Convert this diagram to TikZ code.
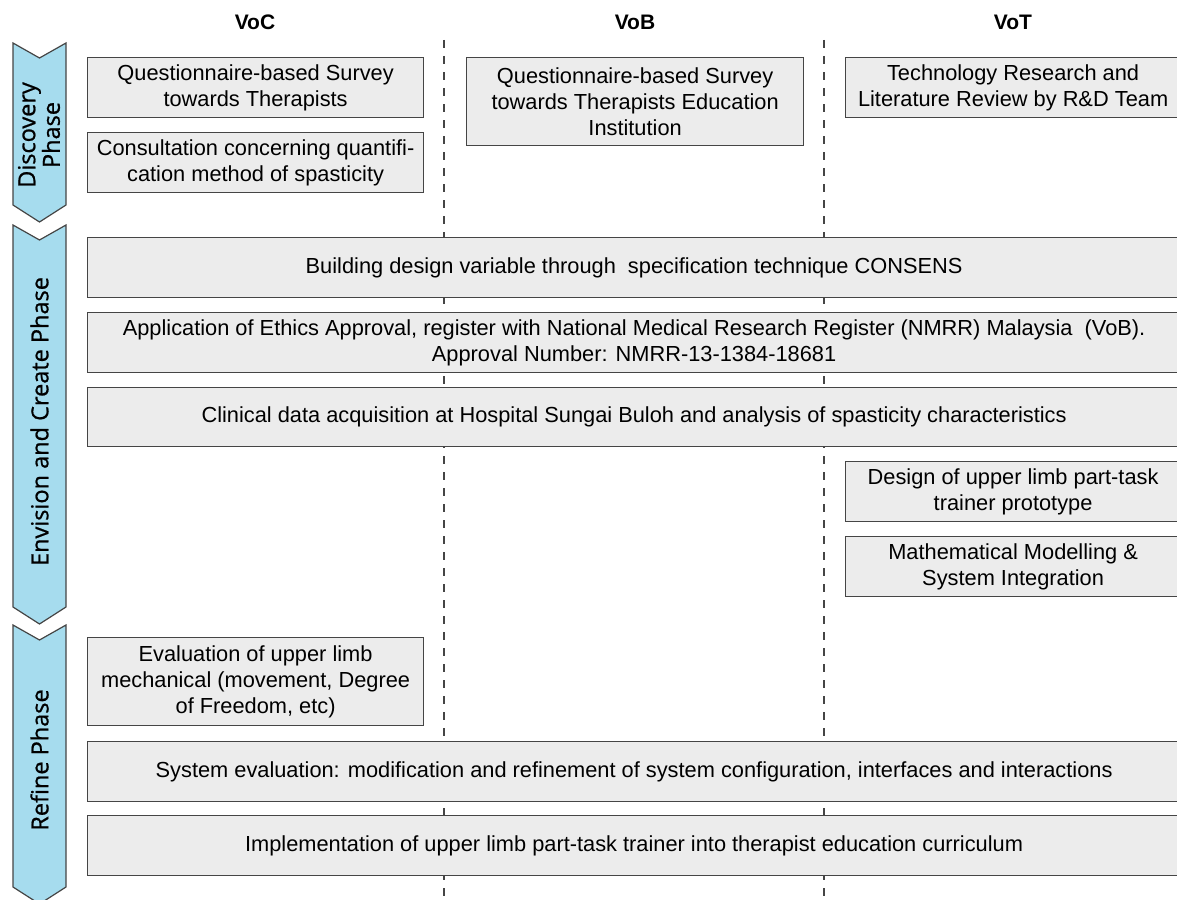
\documentclass[tikz,border=0pt]{standalone}
\usepackage{fontspec}
\setmainfont{Liberation Sans}
\newfontfamily\phasefont[FakeBold=0.8]{Open Sans}
\usetikzlibrary{positioning}
\definecolor{boxgray}{HTML}{ECECEC}
\definecolor{boxline}{HTML}{454545}
\definecolor{phaseblue}{HTML}{A6DCEE}
\tikzset{every node/.style={inner sep=0pt, align=center, font=\fontsize{21.8}{26}\selectfont},
         task/.style={draw=boxline, fill=boxgray, line width=1.2pt, anchor=north west},
         phase/.style={draw=boxline, fill=phaseblue, line width=1.2pt, line join=miter},
         phasetext/.style={rotate=90, font=\fontsize{23.5}{19}\phasefont},
         voice/.style={font=\fontsize{21}{24}\selectfont\bfseries},
         lane/.style={boxline, line width=1.1pt, dash pattern=on 8pt off 8pt}}

\begin{document}
\begin{tikzpicture}[x=1pt,y=-1pt]
     \useasboundingbox (0,0) rectangle (1177,899);
     \node[voice] (voc) at ( 255,22) {VoC};
     \node[voice] (vob) at ( 635,22) {VoB};
     \node[voice] (vot) at (1013,22) {VoT};
     \draw[lane] (444,40) -- (444,899);
     \draw[lane] (824,40) -- (824,899);
     \begin{scope}
      \filldraw[phase] (13,43) -- (39.5,58) -- (66,43) -- (66,205) -- (39.5,222) -- (13,205) -- cycle;
      \node[phasetext] (discovery) at (39,135) {Discovery\\Phase};
      \node[task, minimum width=336pt, minimum height=60pt] (qsurvey) at (87,57)
        {Questionnaire-based Survey\\towards Therapists};
      \node[task, minimum width=336pt, minimum height=60pt] (consult) at (87,132)
        {Consultation concerning quantifi-\\cation method of spasticity};
      \node[task, minimum width=337pt, minimum height=88pt] (qinst) at (466,57)
        {Questionnaire-based Survey\\towards Therapists Education\\Institution};
      \node[task, minimum width=335pt, minimum height=60pt] (techrev) at (845,57)
        {Technology Research and\\Literature Review by R\&D Team};
     \end{scope}
     \begin{scope}
      \filldraw[phase] (13,225) -- (39.5,240) -- (66,225) -- (66,607) -- (39.5,624) -- (13,607) -- cycle;
      \node[phasetext] (envision) at (39.5,421.5) {Envision and Create Phase};
      \node[task, minimum width=1093pt, minimum height=60pt] (build) at (87,237)
        {Building design variable through\ \ specification technique CONSENS};
      \node[task, minimum width=1093pt, minimum height=60pt] (ethics) at (87,312)
        {Application of Ethics Approval, register with National Medical Research Register (NMRR) Malaysia\ \ (VoB).\\Approval Number: NMRR-13-1384-18681};
      \node[task, minimum width=1093pt, minimum height=59pt] (clinical) at (87,387)
        {Clinical data acquisition at Hospital Sungai Buloh and analysis of spasticity characteristics};
      \node[task, minimum width=335pt, minimum height=60pt] (proto) at (845,461)
        {Design of upper limb part-task\\trainer prototype};
      \node[task, minimum width=335pt, minimum height=60pt] (mathmod) at (845,536)
        {Mathematical Modelling \&\\System Integration};
     \end{scope}
     \begin{scope}
      \filldraw[phase] (13,625) -- (39.5,640) -- (66,625) -- (66,887) -- (39.5,904) -- (13,887) -- cycle;
      \node[phasetext] (refine) at (39.5,760) {Refine Phase};
      \node[task, minimum width=336pt, minimum height=88pt] (evalmech) at (87,637)
        {Evaluation of upper limb\\mechanical (movement, Degree\\of Freedom, etc)};
      \node[task, minimum width=1093pt, minimum height=60pt] (syseval) at (87,741)
        {System evaluation: modification and refinement of system configuration, interfaces and interactions};
      \node[task, minimum width=1093pt, minimum height=60pt] (implement) at (87,815)
        {Implementation of upper limb part-task trainer into therapist education curriculum};
     \end{scope}
\end{tikzpicture}
\end{document}
